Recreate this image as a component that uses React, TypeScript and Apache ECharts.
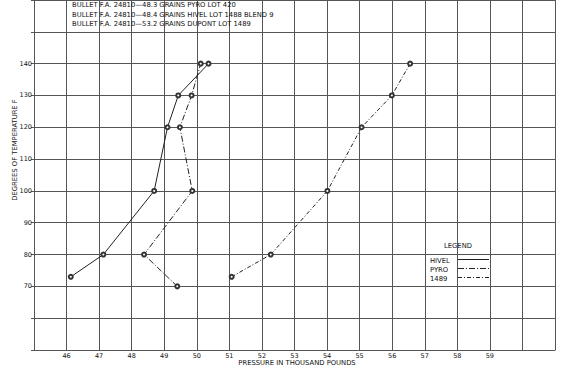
import React, { useEffect, useRef } from "react";
import * as echarts from "echarts";

const titleLines = [
  "BULLET F.A. 24810\u201448.3 GRAINS PYRO LOT 420",
  "BULLET F.A. 24810\u201448.4 GRAINS HIVEL LOT 1488 BLEND 9",
  "BULLET F.A. 24810\u201453.2 GRAINS DUPONT LOT 1489",
];
const xLabels = [46, 47, 48, 49, 50, 51, 52, 53, 54, 55, 56, 57, 58, 59];
const yLabels = [70, 80, 90, 100, 110, 120, 130, 140];

const hivelPressure = [46.13, 47.13, 48.69, 49.1, 49.43, 50.36];
const hivelTemp = [73, 80, 100, 120, 130, 140];
const pyroPressure = [49.4, 48.38, 49.86, 49.48, 49.84, 50.12];
const pyroTemp = [70, 80, 100, 120, 130, 140];
const dupontPressure = [51.07, 52.27, 54.01, 55.06, 55.99, 56.55];
const dupontTemp = [73, 80, 100, 120, 130, 140];

const legendNames = ["HIVEL", "PYRO", "1489"];

const FONT = "DejaVu Sans";
const INK = "#111111";
const GRID = "#555555";
const FS = 6.8;

const dashPyro = [6, 2, 1, 2];
const dash1489 = [4, 2, 1, 2];

export default function App() {
  const ref = useRef<HTMLDivElement>(null);
  useEffect(() => {
    if (!ref.current) return;
    const chart = echarts.init(ref.current, undefined, { renderer: "svg" });
    const pairs = (xs: number[], ys: number[]) => xs.map((x, i) => [x, ys[i]]);
    const seriesBase = {
      type: "line" as const,
      symbol: "emptyCircle",
      symbolSize: 4,
      itemStyle: { color: "#333333", borderWidth: 0.6 },
      silent: true,
    };
    const legendX1 = 458;
    const legendX2 = 489;
    const legendYs = [259.5, 268.5, 277.5];
    const dashes: any[] = [null, dashPyro, dash1489];
    const txt = (text: string, x: number, y: number, align = "left", rotation = 0) => ({
      type: "text",
      x,
      y,
      rotation,
      style: {
        text,
        fontFamily: FONT,
        fontSize: FS,
        fill: INK,
        align,
        verticalAlign: "middle",
      },
    });
    chart.setOption({
      animation: false,
      backgroundColor: "#ffffff",
      grid: { left: 34, right: 21, top: -2, bottom: 23, containLabel: false },
      xAxis: {
        type: "value",
        min: 45,
        max: 61,
        interval: 1,
        axisLine: { show: true, lineStyle: { color: GRID, width: 1 } },
        axisTick: { show: false },
        splitLine: { show: true, lineStyle: { color: GRID, width: 1 } },
        axisLabel: {
          margin: 2,
          fontFamily: FONT,
          fontSize: 6.5,
          color: INK,
          formatter: (v: number) => (xLabels.includes(v) ? String(v) : ""),
        },
      },
      yAxis: {
        type: "value",
        min: 50,
        max: 160,
        interval: 10,
        axisLine: { show: true, lineStyle: { color: GRID, width: 1 } },
        axisTick: { show: true, length: 3, lineStyle: { color: GRID } },
        splitLine: { show: true, lineStyle: { color: GRID, width: 1 } },
        axisLabel: {
          margin: 2,
          fontFamily: FONT,
          fontSize: 6.5,
          color: INK,
          formatter: (v: number) => (yLabels.includes(v) ? String(v) : ""),
        },
      },
      series: [
        {
          ...seriesBase,
          name: legendNames[0],
          data: pairs(hivelPressure, hivelTemp),
          lineStyle: { color: "#222222", width: 1, type: "solid" },
        },
        {
          ...seriesBase,
          name: legendNames[1],
          data: pairs(pyroPressure, pyroTemp),
          lineStyle: { color: "#222222", width: 1, type: dashPyro },
        },
        {
          ...seriesBase,
          name: legendNames[2],
          data: pairs(dupontPressure, dupontTemp),
          lineStyle: { color: "#222222", width: 1, type: dash1489 },
        },
      ],
      graphic: {
        elements: [
          ...titleLines.map((t, i) => ({ ...txt(t, 72, 5 + i * 9.5), id: "title" + i, z: 100 })),
          { ...txt("PRESSURE IN THOUSAND POUNDS", 297, 363, "center"), id: "xname" },
          { ...txt("DEGREES OF TEMPERATURE F", 15, 150, "center", Math.PI / 2), id: "yname" },
          { ...txt("LEGEND", 458, 246, "center"), id: "legendTitle" },
          ...legendNames.map((n, i) => ({ ...txt(n, 430, legendYs[i] + 1), id: "lt" + i })),
          ...legendNames.map((_, i) => ({
            id: "ll" + i,
            type: "line",
            shape: { x1: legendX1, y1: legendYs[i], x2: legendX2, y2: legendYs[i] },
            style: { stroke: "#222222", lineWidth: 1, lineDash: dashes[i] },
          })),
        ],
      },
    });
    return () => chart.dispose();
  }, []);
  return (
    <div
      ref={ref}
      style={{ position: "absolute", left: 0, top: 0, width: 576, height: 373 }}
    />
  );
}
